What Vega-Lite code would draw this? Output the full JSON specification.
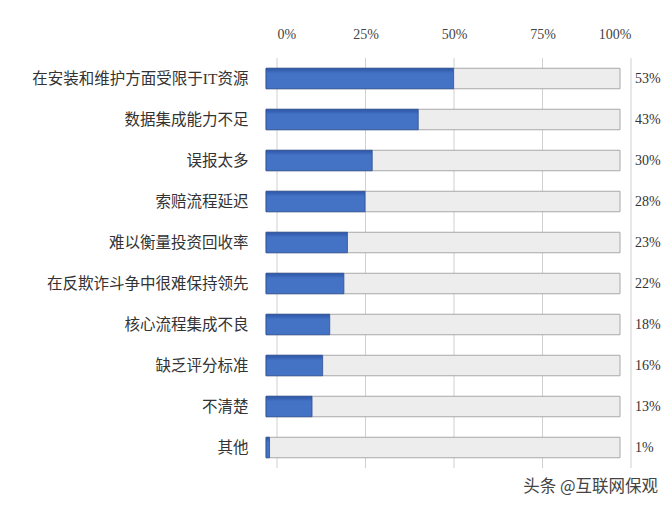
{
  "$schema": "https://vega.github.io/schema/vega-lite/v6.json",
  "width": 354,
  "height": 410,
  "autosize": "none",
  "padding": {"left": 266, "top": 58, "right": 52, "bottom": 39},
  "background": "white",
  "config": {"view": {"stroke": null}, "font": "Liberation Serif, Noto Sans CJK SC"},
  "title": {"text": "头条 @互联网保观", "orient": "bottom", "anchor": "end", "frame": "group", "fontSize": 16.5, "font": "Noto Sans CJK SC", "fontWeight": "normal", "color": "#444", "offset": 10, "dx": 38},
  "datasets": {
    "grid": [{"tick": 0}, {"tick": 25}, {"tick": 50}, {"tick": 75}, {"tick": 100}],
    "bars": [
      {"item": "在安装和维护方面受限于IT资源", "value": 53, "label": "53%"},
      {"item": "数据集成能力不足", "value": 43, "label": "43%"},
      {"item": "误报太多", "value": 30, "label": "30%"},
      {"item": "索赔流程延迟", "value": 28, "label": "28%"},
      {"item": "难以衡量投资回收率", "value": 23, "label": "23%"},
      {"item": "在反欺诈斗争中很难保持领先", "value": 22, "label": "22%"},
      {"item": "核心流程集成不良", "value": 18, "label": "18%"},
      {"item": "缺乏评分标准", "value": 16, "label": "16%"},
      {"item": "不清楚", "value": 13, "label": "13%"},
      {"item": "其他", "value": 1, "label": "1%"}
    ]
  },
  "layer": [
    {
      "data": {"name": "grid"},
      "mark": {"type": "rule", "color": "#d0d0d0", "strokeWidth": 1},
      "encoding": {
        "x": {"field": "tick", "type": "quantitative", "scale": {"domain": [0, 100]},
          "axis": {"orient": "top", "title": null, "values": [0, 25, 50, 75, 100], "labelExpr": "datum.value + '%'", "domain": false, "ticks": false, "grid": false, "labelOffset": 11, "labelFontSize": 14, "labelColor": "#444", "labelPadding": 17, "labelFont": "Liberation Serif"}},
        "xOffset": {"value": 11}
      }
    },
    {
      "data": {"name": "bars"},
      "layer": [
        {
          "mark": {"type": "bar", "fill": "#ededed", "stroke": "#a8a8a8", "strokeWidth": 1},
          "encoding": {
            "y": {"field": "item", "type": "nominal", "sort": null,
              "scale": {"paddingInner": 0.5, "paddingOuter": 0.25},
              "axis": {"title": null, "domain": false, "ticks": false, "labelFontSize": 15.5, "labelLimit": 0, "labelColor": "#333", "labelPadding": 18, "labelFont": "Liberation Serif, Noto Sans CJK SC"}},
            "x": {"datum": 0, "type": "quantitative"},
            "x2": {"datum": 100}
          }
        },
        {
          "mark": {"type": "bar", "stroke": "#2c4f94", "strokeWidth": 0.8,
            "fill": {"gradient": "linear", "x1": 0, "y1": 0, "x2": 0, "y2": 1,
              "stops": [{"offset": 0, "color": "#2d56a8"}, {"offset": 0.25, "color": "#4472c4"}, {"offset": 1, "color": "#4472c4"}]}},
          "encoding": {
            "y": {"field": "item", "type": "nominal", "sort": null},
            "x": {"field": "value", "type": "quantitative"}
          }
        },
        {
          "mark": {"type": "text", "align": "left", "dx": 15, "fontSize": 14, "color": "#333", "font": "Liberation Serif"},
          "encoding": {
            "y": {"field": "item", "type": "nominal", "sort": null},
            "x": {"datum": 100, "type": "quantitative"},
            "text": {"field": "label"}
          }
        }
      ]
    }
  ]
}
